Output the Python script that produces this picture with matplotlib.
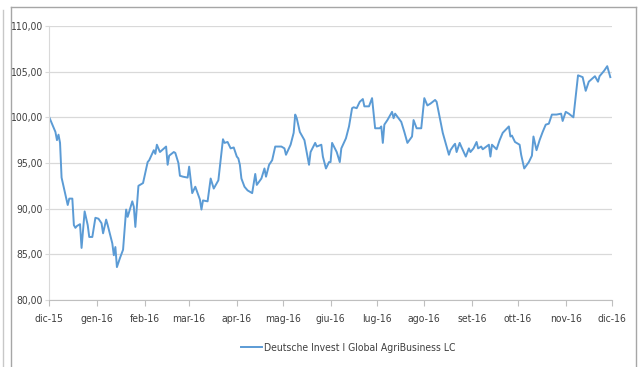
import numpy as np
import pandas as pd
import matplotlib
matplotlib.use("Agg")
import matplotlib.pyplot as plt
from matplotlib.lines import Line2D
from matplotlib.font_manager import FontProperties

# days after 1 Dec 2015 and fund value (base 100)
days = [0, 4, 5, 6, 7, 8, 10, 12, 13, 15, 16, 17, 18, 20, 21, 23, 25, 26, 28, 30,
        32, 34, 35, 37, 38, 41, 42, 43, 44, 46, 48, 50, 51, 54, 55, 56, 58, 61, 64, 65,
        68, 69, 70, 71, 72, 74, 76, 77, 78, 81, 82, 84, 85, 87, 90, 91, 93, 95, 98, 99,
        100, 103, 105, 107, 110, 113, 114, 116, 118, 120, 122, 123, 124, 125, 127, 129, 132, 134, 135, 138,
        140, 141, 143, 145, 147, 151, 153, 154, 157, 159, 160, 161, 163, 164, 166, 168, 169, 170, 173, 174,
        177, 178, 180, 182, 183, 184, 187, 189, 190, 193, 195, 197, 198, 200, 202, 204, 205, 208, 210, 212,
        215, 216, 217, 218, 220, 223, 224, 225, 229, 231, 233, 236, 237, 239, 242, 244, 246, 248, 251, 252,
        256, 260, 261, 263, 264, 265, 267, 268, 271, 273, 274, 276, 278, 279, 281, 282, 286, 287, 288, 291,
        293, 295, 299, 300, 301, 303, 306, 307, 309, 312, 314, 315, 317, 319, 321, 323, 325, 327, 330, 333,
        334, 336, 338, 341, 344, 347, 349, 351, 353, 355, 357, 358, 361, 363, 365]
values = [100.0, 98.4, 97.5, 98.1, 97.2, 93.4, 91.9, 90.4, 91.1, 91.1, 88.2, 87.9, 88.1, 88.3, 85.7, 89.7, 88.2, 86.9, 86.9, 89.0,
          88.9, 88.4, 87.3, 88.8, 88.2, 86.2, 84.9, 85.8, 83.6, 84.6, 85.5, 89.9, 89.1, 90.8, 90.2, 88.0, 92.5, 92.8, 95.1, 95.3,
          96.4, 96.0, 97.0, 96.6, 96.2, 96.5, 96.8, 94.8, 95.8, 96.2, 96.1, 95.0, 93.6, 93.5, 93.4, 94.6, 91.7, 92.4, 91.0, 89.9,
          90.9, 90.8, 93.3, 92.2, 93.1, 97.6, 97.2, 97.3, 96.6, 96.7, 95.7, 95.5, 94.8, 93.3, 92.4, 92.0, 91.7, 93.8, 92.6, 93.3,
          94.4, 93.5, 94.8, 95.3, 96.8, 96.8, 96.6, 95.9, 97.0, 98.3, 100.3, 99.9, 98.4, 98.1, 97.5, 95.7, 94.8, 96.2, 97.2, 96.8,
          97.0, 95.7, 94.4, 95.1, 95.1, 97.2, 96.2, 95.1, 96.6, 97.7, 99.0, 101.0, 101.1, 101.0, 101.7, 102.0, 101.2, 101.2, 102.1, 98.8,
          98.8, 99.0, 97.2, 99.2, 99.7, 100.6, 99.9, 100.4, 99.5, 98.4, 97.2, 97.9, 99.7, 98.8, 98.8, 102.1, 101.3, 101.5, 101.9, 101.7,
          98.3, 95.9, 96.4, 96.9, 97.1, 96.2, 97.2, 96.8, 95.7, 96.6, 96.2, 96.6, 97.3, 96.6, 96.8, 96.5, 97.0, 95.7, 97.0, 96.5,
          97.5, 98.3, 99.0, 97.9, 98.0, 97.3, 97.0, 95.9, 94.4, 95.1, 95.8, 97.9, 96.4, 97.5, 98.4, 99.2, 99.3, 100.3, 100.3, 100.4,
          99.6, 100.6, 100.4, 100.0, 104.6, 104.4, 102.9, 103.9, 104.2, 104.5, 103.9, 104.5, 105.1, 105.6, 104.4]

month_labels = ["dic-15", "gen-16", "feb-16", "mar-16", "apr-16", "mag-16", "giu-16",
                "lug-16", "ago-16", "set-16", "ott-16", "nov-16", "dic-16"]
y_ticks = [80, 85, 90, 95, 100, 105, 110]
y_labels = ["80,00", "85,00", "90,00", "95,00", "100,00", "105,00", "110,00"]
series_name = "Deutsche Invest I Global AgriBusiness LC"

start = pd.Timestamp("2015-12-01")
dates = start + pd.to_timedelta(days, unit="D")
month_ticks = pd.date_range("2015-12-01", "2016-12-01", freq="MS")

fp = FontProperties(family="DejaVu Sans", stretch="condensed", size=7.5)
txt = "#404040"

fig = plt.figure(figsize=(6.4, 3.67), dpi=100)
ax = fig.add_axes([0.077, 0.1826, 0.879, 0.7466])

ax.plot(dates, values, color="#5b9bd5", lw=1.4, label=series_name)

ax.set_xlim(month_ticks[0], month_ticks[-1])
ax.set_ylim(80, 110)
ax.set_xticks(month_ticks)
ax.set_xticklabels(month_labels, fontproperties=fp, color=txt)
ax.set_yticks(y_ticks)
ax.set_yticklabels(y_labels, fontproperties=fp, color=txt)

ax.grid(axis="y", color="#d9d9d9", lw=0.9)
ax.set_axisbelow(True)
for s in ["top", "right"]:
    ax.spines[s].set_visible(False)
ax.spines["left"].set_color("#d9d9d9")
ax.spines["bottom"].set_color("#bfbfbf")
ax.tick_params(axis="x", length=4, color="#bfbfbf", pad=6)
ax.tick_params(axis="y", length=3, color="#d9d9d9", pad=2)

ax.legend(loc="center", bbox_to_anchor=(0.531, -0.175), frameon=False,
          handlelength=2.0, handletextpad=0.2, prop=fp, labelcolor=txt)

# outer frame lines
border = "#a6a6a6"
fig.add_artist(Line2D([11/640, 11/640], [0, 1 - 7/367], color=border, lw=1, transform=fig.transFigure))
fig.add_artist(Line2D([11/640, 636/640], [1 - 7/367, 1 - 7/367], color=border, lw=1, transform=fig.transFigure))
fig.add_artist(Line2D([636/640, 636/640], [0, 1 - 7/367], color=border, lw=1, transform=fig.transFigure))
fig.add_artist(Line2D([3/640, 3/640], [0, 1 - 10/367], color="#c8c8c8", lw=1, transform=fig.transFigure))

fig.savefig("out.png", dpi=100)
